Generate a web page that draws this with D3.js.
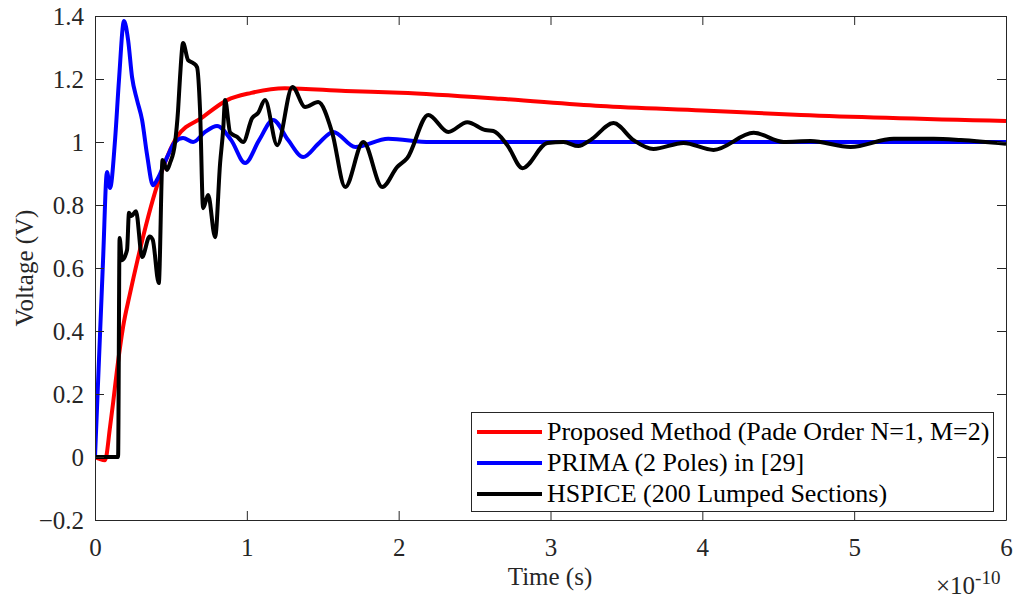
<!DOCTYPE html>
<html><head><meta charset="utf-8">
<script src="https://cdn.jsdelivr.net/npm/d3@7"></script>
<style>body{margin:0;background:#fff}svg{display:block}</style>
</head><body><svg id="c" width="1017" height="598"></svg>
<script>
// time in units of 1e-10 s, voltage in V
const seriesNames = ["Proposed Method (Pade Order N=1, M=2)", "PRIMA (2 Poles) in [29]", "HSPICE (200 Lumped Sections)"];
const seriesColors = ["#ff0000", "#0000ff", "#000000"];
const xTicks = [0, 1, 2, 3, 4, 5, 6];
const yTicks = [-0.2, 0, 0.2, 0.4, 0.6, 0.8, 1, 1.2, 1.4];

const proposedT = [0, 0.03, 0.066, 0.099, 0.119, 0.145, 0.185, 0.231, 0.28, 0.41, 0.54, 0.71, 0.87, 1.03, 1.25, 1.65, 2.01, 2.67, 3.33, 4.0, 4.65, 6.0];
const proposedV = [0, -0.006, -0.01, 0.095, 0.171, 0.276, 0.413, 0.52, 0.625, 0.863, 1.016, 1.079, 1.133, 1.156, 1.171, 1.162, 1.156, 1.137, 1.114, 1.10, 1.086, 1.067];

const primaT = [0, 0.053, 0.079, 0.099, 0.132, 0.158, 0.191, 0.218, 0.244, 0.277, 0.31, 0.343, 0.382, 0.415, 0.475, 0.527, 0.58, 0.646, 0.725, 0.804, 0.897, 0.989, 1.081, 1.173, 1.272, 1.371, 1.47, 1.569, 1.714, 1.931, 2.208, 2.54, 3.0, 4.0, 5.0, 6.0];
const primaV = [0, 0.625, 0.905, 0.854, 1.006, 1.197, 1.384, 1.324, 1.206, 1.133, 1.07, 0.959, 0.863, 0.886, 0.952, 1.0, 1.013, 1.0, 1.032, 1.051, 1.006, 0.933, 1.006, 1.07, 1.006, 0.952, 0.994, 1.032, 0.984, 1.01, 1.0, 1.0, 1.0, 1.0, 1.0, 1.0];

const hspiceT = [0, 0.152, 0.162, 0.178, 0.211, 0.224, 0.24, 0.27, 0.31, 0.36, 0.38, 0.42, 0.445, 0.474, 0.494, 0.527, 0.547, 0.56, 0.58, 0.613, 0.646, 0.672, 0.692, 0.712, 0.745, 0.791, 0.824, 0.844, 0.857, 0.89, 0.936, 0.976, 1.035, 1.074, 1.12, 1.2, 1.30, 1.384, 1.47, 1.562, 1.648, 1.767, 1.892, 1.991, 2.057, 2.195, 2.327, 2.452, 2.571, 2.624, 2.716, 2.815, 2.98, 3.085, 3.184, 3.263, 3.415, 3.547, 3.678, 3.876, 4.074, 4.338, 4.535, 4.713, 4.977, 5.26, 5.524, 5.702, 6.0];
const hspiceV = [0, 0, 0.695, 0.625, 0.657, 0.775, 0.765, 0.78, 0.635, 0.70, 0.69, 0.552, 0.943, 0.911, 0.933, 0.997, 1.10, 1.206, 1.314, 1.26, 1.251, 1.238, 1.10, 0.79, 0.832, 0.698, 0.933, 1.038, 1.133, 1.03, 1.016, 1.0, 1.076, 1.092, 1.133, 0.99, 1.175, 1.111, 1.127, 1.03, 0.857, 1.0, 0.857, 0.921, 0.949, 1.086, 1.032, 1.063, 1.038, 1.035, 0.99, 0.917, 0.997, 1.0, 0.987, 1.006, 1.06, 1.006, 0.978, 0.997, 0.975, 1.029, 1.0, 1.003, 0.984, 1.01, 1.01, 1.006, 0.994];

const svg = d3.select("#c");
const L = 95, R = 1006, T = 16, B = 520;
const x = d3.scaleLinear().domain([0, 6]).range([L, R]);
const y = d3.scaleLinear().domain([-0.2, 1.4]).range([B, T]);
const axisColor = "#262626";
const serif = '"Liberation Serif", "Times New Roman", Tinos, serif';
const FS = 25;

const plot = svg.append("g");
plot.append("defs").append("clipPath").attr("id", "clip")
  .append("rect").attr("x", L).attr("y", T).attr("width", R - L).attr("height", B - T);

const series = [
  {t: proposedT, v: proposedV},
  {t: primaT, v: primaV},
  {t: hspiceT, v: hspiceV}
];
const line = d3.line().x(d => x(d[0])).y(d => y(d[1])).curve(d3.curveMonotoneX);
series.forEach((s, i) => {
  const pts = s.t.map((t, k) => [t, s.v[k]]);
  plot.append("path").attr("d", line(pts)).attr("fill", "none")
    .attr("stroke", seriesColors[i]).attr("stroke-width", 4)
    .attr("stroke-linejoin", "round").attr("clip-path", "url(#clip)");
});

// axes (MATLAB style box with inward ticks)
const tl = 9;
const fmt = d => (d === 0 ? "0" : d3.format("~g")(d));
const xb = d3.axisBottom(x).tickValues(xTicks).tickSizeInner(-tl).tickSizeOuter(0).tickPadding(18).tickFormat(fmt);
const xt = d3.axisTop(x).tickValues(xTicks).tickSizeInner(-tl).tickSizeOuter(0).tickFormat("");
const yl = d3.axisLeft(y).tickValues(yTicks).tickSizeInner(-tl).tickSizeOuter(0).tickPadding(11).tickFormat(fmt);
const yr = d3.axisRight(y).tickValues(yTicks).tickSizeInner(-tl).tickSizeOuter(0).tickFormat("");
function style(g) {
  g.selectAll("path.domain").attr("stroke", axisColor).attr("stroke-width", 1);
  g.selectAll(".tick line").attr("stroke", axisColor).attr("stroke-width", 1);
  g.selectAll(".tick text").style("font-family", serif).style("font-size", FS + "px").attr("fill", axisColor);
}
svg.append("g").attr("transform", `translate(0,${B})`).call(xb).call(style);
svg.append("g").attr("transform", `translate(0,${T})`).call(xt).call(style);
svg.append("g").attr("transform", `translate(${L},0)`).call(yl).call(style);
svg.append("g").attr("transform", `translate(${R},0)`).call(yr).call(style);

// labels
svg.append("text").attr("x", 550).attr("y", 585).attr("text-anchor", "middle").attr("fill", axisColor)
  .style("font-family", serif).style("font-size", FS + "px").text("Time (s)");
svg.append("text").attr("transform", `translate(33,268) rotate(-90)`).attr("text-anchor", "middle").attr("fill", axisColor)
  .style("font-family", serif).style("font-size", FS + "px").text("Voltage (V)");
const ex = svg.append("text").attr("x", 936).attr("y", 594).attr("fill", axisColor)
  .style("font-family", serif).style("font-size", FS + "px");
ex.append("tspan").text("\u00d710");
ex.append("tspan").attr("dy", -10).style("font-size", "19px").text("-10");

// legend
const lg = svg.append("g");
lg.append("rect").attr("x", 471.5).attr("y", 412.5).attr("width", 522).attr("height", 99)
  .attr("fill", "#fff").attr("stroke", axisColor).attr("stroke-width", 1);
const rowsY = [432, 463, 494];
seriesNames.forEach((n, i) => {
  lg.append("line").attr("x1", 477).attr("x2", 542).attr("y1", rowsY[i]).attr("y2", rowsY[i])
    .attr("stroke", seriesColors[i]).attr("stroke-width", 4);
  lg.append("text").attr("x", 547).attr("y", rowsY[i] + 8).attr("fill", "#000")
    .style("font-family", serif).style("font-size", "26px").text(n);
});
</script></body></html>
